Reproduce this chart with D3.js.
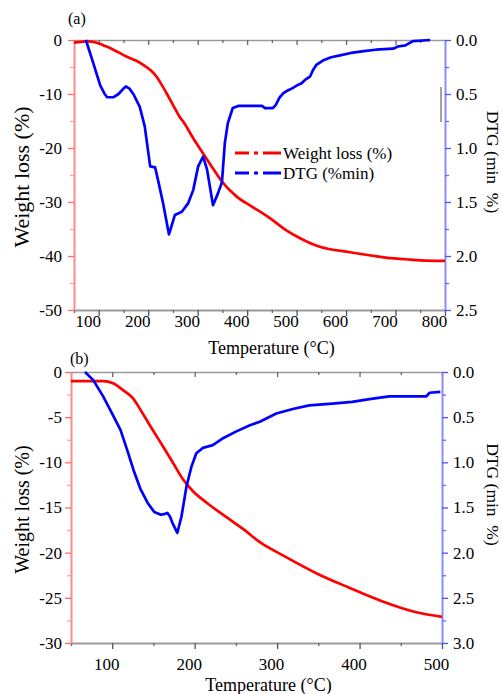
<!DOCTYPE html>
<html>
<head>
<meta charset="utf-8">
<script src="https://cdn.jsdelivr.net/npm/d3@7/dist/d3.min.js"></script>
<style>
  body { margin: 0; background: #fff; }
  svg { display: block; }
  text { font-family: "Liberation Serif", "Times New Roman", "DejaVu Serif", serif; }
</style>
</head>
<body>
<svg id="chart" width="502" height="694"></svg>
<script>
// ---- panel (a) : [temperature °C, value]
const weightA = [[50,-0.5],[65,-0.35],[78,-0.25],[96,-0.5],[110,-1.0],[123,-1.5],[140,-2.3],[157,-3.1],
  [175,-3.8],[190,-4.6],[205,-5.6],[217,-6.8],[224,-7.8],[238,-10.0],[250,-12.0],[264,-14.3],[270,-15.0],
  [291,-18.2],[311,-21.0],[331,-23.8],[349,-26.2],[379,-29.0],[409,-30.8],[446,-33.0],[480,-35.3],
  [507,-36.7],[547,-38.3],[608,-39.3],[650,-39.9],[689,-40.4],[720,-40.6],[750,-40.8],[800,-40.9]];
const dtgA = [[74,0],[88,0.2],[103,0.42],[112,0.5],[117,0.53],[130,0.53],[140,0.5],[150,0.45],[155,0.43],
  [162,0.45],[170,0.5],[183,0.62],[193,0.8],[204,1.17],[214,1.18],[220,1.3],[230,1.51],[242,1.8],[254,1.62],
  [268,1.59],[281,1.51],[291,1.39],[301,1.17],[311,1.08],[319,1.2],[331,1.53],[341,1.42],[349,1.32],
  [355,0.95],[361,0.77],[371,0.63],[382,0.61],[430,0.61],[436,0.63],[452,0.63],[458,0.6],[466,0.53],
  [474,0.49],[481,0.47],[490,0.45],[501,0.42],[510,0.4],[517,0.37],[527,0.34],[533,0.28],[540,0.23],
  [553,0.19],[570,0.16],[590,0.14],[610,0.12],[640,0.1],[660,0.09],[695,0.08],[705,0.06],[720,0.05],
  [735,0.01],[770,0]];
// ---- panel (b)
const weightB = [[50,-1.0],[75,-1.0],[89,-1.0],[101,-1.25],[113,-2.0],[125,-2.9],[137,-4.6],[149,-6.4],
  [162,-8.3],[174,-10.1],[186,-11.9],[198,-13.2],[215,-14.5],[239,-16.1],[259,-17.4],[280,-18.9],
  [307,-20.3],[348,-22.3],[388,-23.9],[428,-25.4],[469,-26.6],[500,-27.1]];
const dtgB = [[67,0],[77,0.09],[89,0.27],[101,0.48],[110,0.64],[118,0.86],[126,1.09],[134,1.29],[143,1.45],
  [151,1.55],[159,1.58],[164,1.57],[167,1.56],[170,1.6],[173,1.67],[179,1.78],[184,1.6],[190,1.27],
  [196,1.05],[202,0.9],[210,0.84],[222,0.81],[235,0.73],[250,0.66],[267,0.59],[279,0.55],[299,0.46],
  [319,0.41],[339,0.37],[367,0.35],[391,0.33],[412,0.3],[436,0.27],[481,0.27],[485,0.23],[498,0.22]];

// tick labels
const xTicksA = [100,200,300,400,500,600,700,800];
const yTicksA = [-50,-40,-30,-20,-10,0];
const dTicksA = [0,0.5,1,1.5,2,2.5];
const xTicksB = [100,200,300,400,500];
const yTicksB = [-30,-25,-20,-15,-10,-5,0];
const dTicksB = [0,0.5,1,1.5,2,2.5,3];

const legendLabels = ["Weight loss (%)", "DTG (%min)"];
const xTitle = "Temperature (\u00b0C)";
const yTitle = "Weight loss (%)";
const y2Title = "DTG (min\u00a0 %)";
const strayMark = [[792,0.435],[792,0.76]];

const RED = "#ff0000", BLUE = "#0000ff";
const FONT = '"Liberation Serif", "Times New Roman", serif';
const svg = d3.select("#chart");

const panels = [
  { tag:"(a)", weight:weightA, dtg:dtgA, xTicks:xTicksA, yTicks:yTicksA, dTicks:dTicksA,
    xDomain:[50,800], yDomain:[-50,0], dDomain:[0,2.5], yMinorStep:5,
    left:74, right:445, top:40, bottom:310, xPad:-1, xDx:-11, yPad:6, titleY:354, tagY:24, tagX:68,
    yTitleSize:22, legend:true },
  { tag:"(b)", weight:weightB, dtg:dtgB, xTicks:xTicksB, yTicks:yTicksB, dTicks:dTicksB,
    xDomain:[50,500], yDomain:[-30,0], dDomain:[0,3], yMinorStep:2.5,
    left:71, right:442, top:372, bottom:643, xPad:9, xDx:-6, yPad:3, titleY:691, tagY:364, tagX:70,
    yTitleSize:20, legend:false }
];

function styleAxis(sel, domainColor, tickColor, domainWidth) {
  sel.attr("font-family", FONT).attr("font-size", 17);
  sel.select(".domain").attr("stroke", domainColor).attr("stroke-width", domainWidth);
  sel.selectAll(".tick line").attr("stroke", tickColor).attr("stroke-width", 1.3);
  sel.selectAll(".tick text").attr("fill", "#000").style("font-family", FONT).style("font-size", "17px");
}

function drawPanel(p) {
  const x = d3.scaleLinear().domain(p.xDomain).range([p.left, p.right]);
  const y = d3.scaleLinear().domain(p.yDomain).range([p.bottom, p.top]);
  const yD = d3.scaleLinear().domain(p.dDomain).range([p.top, p.bottom]);
  const g = svg.append("g");

  const xMinor = d3.range(p.xDomain[0], p.xDomain[1] + 0.1, 50).filter(v => v % 100 !== 0);
  const yMinor = d3.range(p.yDomain[0], p.yDomain[1] + 0.01, p.yMinorStep).filter(v => !p.yTicks.includes(v));
  const dMinor = d3.range(p.dDomain[0], p.dDomain[1] + 0.01, 0.25).filter(v => !p.dTicks.includes(v));

  // top axis (ticks pointing in)
  g.append("g").attr("transform", `translate(0,${p.top})`)
    .call(d3.axisTop(x).tickValues(xMinor).tickSizeInner(-3).tickSizeOuter(0).tickFormat(""))
    .call(s => styleAxis(s, "#9a9a9a", "#666", 1.5));
  g.append("g").attr("transform", `translate(0,${p.top})`)
    .call(d3.axisTop(x).tickValues(p.xTicks).tickSizeInner(-5).tickSizeOuter(0).tickFormat(""))
    .call(s => { s.select(".domain").remove(); styleAxis(s, "none", "#666", 1); });

  // bottom axis
  g.append("g").attr("transform", `translate(0,${p.bottom})`)
    .call(d3.axisBottom(x).tickValues(xMinor).tickSizeInner(3).tickSizeOuter(0).tickFormat(""))
    .call(s => styleAxis(s, "#9a9a9a", "#666", 1.8));
  g.append("g").attr("transform", `translate(0,${p.bottom})`)
    .call(d3.axisBottom(x).tickValues(p.xTicks).tickSizeInner(6).tickSizeOuter(0).tickPadding(p.xPad)
      .tickFormat(d3.format("d")))
    .call(s => { s.select(".domain").remove(); styleAxis(s, "none", "#555", 1);
      s.selectAll(".tick text").attr("dx", p.xDx); });

  // left axis (weight loss, red)
  g.append("g").attr("transform", `translate(${p.left},0)`)
    .call(d3.axisLeft(y).tickValues(yMinor).tickSizeInner(4).tickSizeOuter(0).tickFormat(""))
    .call(s => styleAxis(s, "#ff8c8c", "#ff9c9c", 2));
  g.append("g").attr("transform", `translate(${p.left},0)`)
    .call(d3.axisLeft(y).tickValues(p.yTicks).tickSizeInner(6).tickSizeOuter(0).tickPadding(p.yPad)
      .tickFormat(d => String(d)))
    .call(s => { s.select(".domain").remove(); styleAxis(s, "none", "#ff6b6b", 1); });

  // right axis (DTG, blue)
  g.append("g").attr("transform", `translate(${p.right},0)`)
    .call(d3.axisRight(yD).tickValues(dMinor).tickSizeInner(4).tickSizeOuter(0).tickFormat(""))
    .call(s => styleAxis(s, "#8c8cff", "#6b6bff", 2));
  g.append("g").attr("transform", `translate(${p.right},0)`)
    .call(d3.axisRight(yD).tickValues(p.dTicks).tickSizeInner(6).tickSizeOuter(0).tickPadding(5)
      .tickFormat(d3.format(".1f")))
    .call(s => { s.select(".domain").remove(); styleAxis(s, "none", "#5050ff", 1); });

  // curves
  const lineW = d3.line().curve(d3.curveMonotoneX).x(d => x(d[0])).y(d => y(d[1]));
  const lineD = d3.line().x(d => x(d[0])).y(d => yD(d[1]));
  g.append("path").datum(p.weight).attr("d", lineW)
    .attr("fill", "none").attr("stroke", RED).attr("stroke-width", 2.7).attr("stroke-linejoin", "round");
  g.append("path").datum(p.dtg).attr("d", lineD)
    .attr("fill", "none").attr("stroke", BLUE).attr("stroke-width", 2.7).attr("stroke-linejoin", "round");

  // titles
  const mid = (p.left + p.right) / 2 + 12;
  g.append("text").attr("x", mid).attr("y", p.titleY).attr("text-anchor", "middle")
    .style("font-family", FONT).style("font-size", "18px").text(xTitle);
  const cy = (p.top + p.bottom) / 2;
  g.append("text").attr("transform", `translate(29,${cy + 2}) rotate(-90)`).attr("text-anchor", "middle")
    .style("font-family", FONT).style("font-size", p.yTitleSize + "px").text(yTitle);
  g.append("text").attr("transform", `translate(487,${cy - 13}) rotate(90)`).attr("text-anchor", "middle")
    .style("font-family", FONT).style("font-size", "17.5px").text(y2Title);
  g.append("text").attr("x", p.tagX).attr("y", p.tagY)
    .style("font-family", FONT).style("font-size", "16px").text(p.tag);

  if (p.legend) {
    const colors = [RED, BLUE];
    const lg = g.append("g").attr("transform", "translate(235,153)");
    legendLabels.forEach((lab, i) => {
      lg.append("line").attr("x1", 0).attr("x2", 47).attr("y1", i * 20).attr("y2", i * 20)
        .attr("stroke", colors[i]).attr("stroke-width", 3.2).attr("stroke-dasharray", "14,5,4,5,18,60");
      lg.append("text").attr("x", 48).attr("y", i * 20).attr("dy", "0.35em")
        .style("font-family", FONT).style("font-size", "17px").text(lab);
    });
    // small stray vertical mark near the right axis
    g.append("line").attr("x1", x(strayMark[0][0])).attr("x2", x(strayMark[1][0]))
      .attr("y1", yD(strayMark[0][1])).attr("y2", yD(strayMark[1][1]))
      .attr("stroke", "#444").attr("stroke-width", 1);
  }
}

panels.forEach(drawPanel);
</script>
</body>
</html>
